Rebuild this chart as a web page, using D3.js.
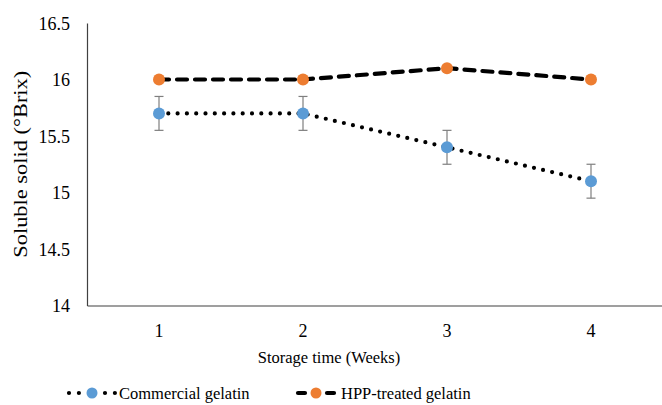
<!DOCTYPE html>
<html>
<head>
<meta charset="utf-8">
<script src="https://cdn.jsdelivr.net/npm/d3@7"></script>
<style>
  body { margin: 0; background: #fff; }
</style>
</head>
<body>
<div id="chart"></div>
<script>
const weeks = ['1', '2', '3', '4']
const commercial = [15.7, 15.7, 15.4, 15.1]
const commercialErr = [0.15, 0.15, 0.15, 0.15]
const hpp = [16, 16, 16.1, 16]
const yTicks = [14, 14.5, 15, 15.5, 16, 16.5]

const serif = '"Liberation Serif", "Times New Roman", "DejaVu Serif", serif'
const width = 662
const height = 405
const margin = { top: 23, right: 0, bottom: 99, left: 87 }

const svg = d3.select('#chart').append('svg')
  .attr('width', width)
  .attr('height', height)

const x = d3.scaleBand()
  .domain(weeks)
  .range([margin.left, margin.left + 576])

const y = d3.scaleLinear()
  .domain([14, 16.5])
  .range([height - margin.bottom - 0.5, margin.top])

const cx = d => x(d) + x.bandwidth() / 2

// axes
const yAxis = svg.append('g')
  .attr('transform', `translate(${margin.left},0)`)
  .call(d3.axisLeft(y).tickValues(yTicks).tickSize(0).tickPadding(17).tickFormat(d3.format('')))
yAxis.attr('font-family', null)
yAxis.select('.domain').attr('stroke', '#404040').attr('stroke-width', 1.2)
yAxis.selectAll('text').style('font-family', serif).style('font-size', '18px').attr('dy', '0.35em')

const xAxis = svg.append('g')
  .attr('transform', `translate(0,${y(14)})`)
  .call(d3.axisBottom(x).tickSize(0).tickPadding(19))
xAxis.attr('font-family', null)
xAxis.select('.domain').attr('stroke', '#404040').attr('stroke-width', 1.2)
xAxis.selectAll('text').style('font-family', serif).style('font-size', '18px')

// axis titles (the y title is stretched along its length in the original)
svg.append('text')
  .attr('transform', `translate(27,${(y(14) + y(16.5)) / 2}) rotate(-90)`)
  .attr('text-anchor', 'middle')
  .attr('textLength', 187)
  .attr('lengthAdjust', 'spacingAndGlyphs')
  .style('font-family', serif)
  .style('font-size', '19px')
  .text('Soluble solid (°Brix)')

svg.append('text')
  .attr('x', x.range()[0] + (x.range()[1] - x.range()[0]) / 2 - 46)
  .attr('y', 363)
  .attr('text-anchor', 'middle')
  .style('font-family', serif)
  .style('font-size', '16.5px')
  .text('Storage time (Weeks)')

const line = d3.line()
  .x((d, i) => cx(weeks[i]))
  .y(d => y(d))

// commercial series
svg.append('path')
  .datum(commercial)
  .attr('d', line)
  .attr('fill', 'none')
  .attr('stroke', '#000')
  .attr('stroke-width', 4.2)
  .attr('stroke-linecap', 'round')
  .attr('stroke-dasharray', '0,9.3')

// hpp series
svg.append('path')
  .datum(hpp)
  .attr('d', line)
  .attr('fill', 'none')
  .attr('stroke', '#000')
  .attr('stroke-width', 4.2)
  .attr('stroke-linecap', 'round')
  .attr('stroke-dasharray', '10,8')

// error bars
const err = svg.append('g').attr('stroke', '#7f7f7f').attr('stroke-width', 1.2)
commercial.forEach((v, i) => {
  const px = cx(weeks[i])
  const e = commercialErr[i]
  err.append('line').attr('x1', px).attr('x2', px).attr('y1', y(v + e)).attr('y2', y(v - e))
  err.append('line').attr('x1', px - 4.5).attr('x2', px + 4.5).attr('y1', y(v + e)).attr('y2', y(v + e))
  err.append('line').attr('x1', px - 4.5).attr('x2', px + 4.5).attr('y1', y(v - e)).attr('y2', y(v - e))
})

svg.append('g').selectAll('circle')
  .data(commercial)
  .join('circle')
  .attr('cx', (d, i) => cx(weeks[i]))
  .attr('cy', d => y(d))
  .attr('r', 6)
  .attr('fill', '#5b9bd5')

svg.append('g').selectAll('circle')
  .data(hpp)
  .join('circle')
  .attr('cx', (d, i) => cx(weeks[i]))
  .attr('cy', d => y(d))
  .attr('r', 6)
  .attr('fill', '#ed7d31')

// legend
const legend = [
  { name: 'Commercial gelatin', color: '#5b9bd5', dash: '0,9.9', segs: [[69, 79], [105, 115]], mx: 92, tx: 119 },
  { name: 'HPP-treated gelatin', color: '#ed7d31', dash: null, segs: [[298, 305], [327, 334]], mx: 316, tx: 341 }
]
const ly = 393
const lg = svg.append('g')
legend.forEach(d => {
  d.segs.forEach(s => {
    lg.append('line')
      .attr('x1', s[0]).attr('x2', s[1]).attr('y1', ly).attr('y2', ly)
      .attr('stroke', '#000').attr('stroke-width', 4.2)
      .attr('stroke-linecap', 'round').attr('stroke-dasharray', d.dash)
  })
  lg.append('circle').attr('cx', d.mx).attr('cy', ly).attr('r', 5.5).attr('fill', d.color)
  lg.append('text').attr('x', d.tx).attr('y', ly + 6)
    .style('font-family', serif).style('font-size', '16.5px').text(d.name)
})
</script>
</body>
</html>
